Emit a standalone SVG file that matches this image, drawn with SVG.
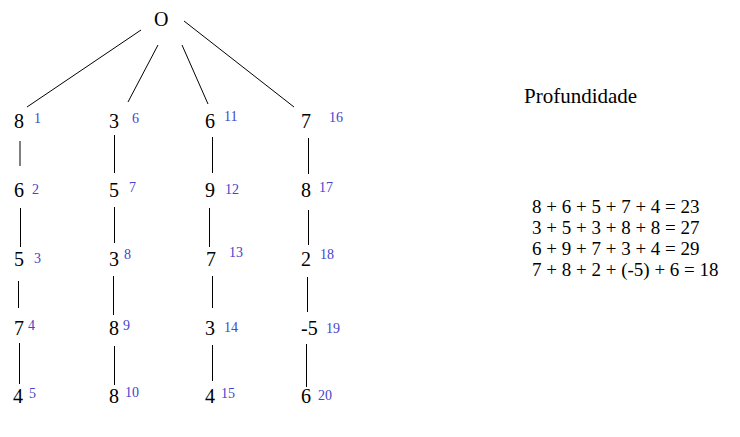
<svg xmlns="http://www.w3.org/2000/svg" width="740" height="437" viewBox="0 0 740 437">
<defs>
<style>
.v{font-family:Liberation Serif;font-size:20px;fill:#000000}
.n{font-family:Liberation Serif;font-size:14px;fill:#4444cc}
.t{font-family:Liberation Serif;font-size:19px;fill:#000000}
</style>
</defs>
<rect width="740" height="437" fill="#ffffff"/>
<g id="connectors" stroke="#000000" stroke-width="1">
<line x1="141" y1="30" x2="27" y2="107"/>
<line x1="158" y1="45" x2="128" y2="102"/>
<line x1="182" y1="45" x2="208" y2="104"/>
<line x1="184" y1="21" x2="294" y2="107"/>
<line x1="20" y1="141" x2="20" y2="166"/>
<line x1="114.5" y1="135" x2="114.5" y2="173"/>
<line x1="212.5" y1="137" x2="212.5" y2="173"/>
<line x1="308.5" y1="138" x2="308.5" y2="174"/>
<line x1="20.5" y1="208" x2="20.5" y2="247"/>
<line x1="114.5" y1="207" x2="114.5" y2="243"/>
<line x1="209.5" y1="208" x2="209.5" y2="247"/>
<line x1="308.5" y1="210" x2="308.5" y2="245"/>
<line x1="18.5" y1="281" x2="18.5" y2="308"/>
<line x1="113.5" y1="276" x2="113.5" y2="315"/>
<line x1="212.5" y1="276" x2="212.5" y2="308"/>
<line x1="307.5" y1="277" x2="307.5" y2="312"/>
<line x1="19.5" y1="343" x2="19.5" y2="384"/>
<line x1="114.5" y1="346" x2="114.5" y2="385"/>
<line x1="212.5" y1="345" x2="212.5" y2="381"/>
<line x1="306.5" y1="344" x2="306.5" y2="387"/>
</g>
<g id="root"><text class="v" x="154" y="26">O</text></g>
<g id="n1"><text class="v" x="14" y="128">8</text><text class="n" x="34" y="123">1</text></g>
<g id="n2"><text class="v" x="14" y="197">6</text><text class="n" x="32" y="194">2</text></g>
<g id="n3"><text class="v" x="14" y="266">5</text><text class="n" x="34" y="263">3</text></g>
<g id="n4"><text class="v" x="14" y="335">7</text><text class="n" x="28" y="330">4</text></g>
<g id="n5"><text class="v" x="13" y="403">4</text><text class="n" x="29" y="398">5</text></g>
<g id="n6"><text class="v" x="109" y="128">3</text><text class="n" x="132" y="123">6</text></g>
<g id="n7"><text class="v" x="109" y="197">5</text><text class="n" x="129" y="192">7</text></g>
<g id="n8"><text class="v" x="109" y="266">3</text><text class="n" x="124" y="259">8</text></g>
<g id="n9"><text class="v" x="109" y="335">8</text><text class="n" x="123" y="330">9</text></g>
<g id="n10"><text class="v" x="109" y="403">8</text><text class="n" x="125" y="397">10</text></g>
<g id="n11"><text class="v" x="205" y="128">6</text><text class="n" x="224" y="121">11</text></g>
<g id="n12"><text class="v" x="205" y="197">9</text><text class="n" x="225" y="194">12</text></g>
<g id="n13"><text class="v" x="206" y="266">7</text><text class="n" x="229" y="257">13</text></g>
<g id="n14"><text class="v" x="205" y="335">3</text><text class="n" x="224" y="332">14</text></g>
<g id="n15"><text class="v" x="205" y="403">4</text><text class="n" x="221" y="398">15</text></g>
<g id="n16"><text class="v" x="301" y="128">7</text><text class="n" x="329" y="122">16</text></g>
<g id="n17"><text class="v" x="301" y="197">8</text><text class="n" x="319" y="192">17</text></g>
<g id="n18"><text class="v" x="301" y="266">2</text><text class="n" x="320" y="259">18</text></g>
<g id="n19"><text class="v" x="301" y="335">-5</text><text class="n" x="326" y="333">19</text></g>
<g id="n20"><text class="v" x="301" y="403">6</text><text class="n" x="318" y="400">20</text></g>
<g id="legend">
<text class="v" x="524" y="103" style="font-size:21px">Profundidade</text>
<text class="t" x="532" y="213">8 + 6 + 5 + 7 + 4 = 23</text>
<text class="t" x="532" y="234">3 + 5 + 3 + 8 + 8 = 27</text>
<text class="t" x="532" y="255">6 + 9 + 7 + 3 + 4 = 29</text>
<text class="t" x="532" y="276">7 + 8 + 2 + (-5) + 6 = 18</text>
</g>
</svg>
